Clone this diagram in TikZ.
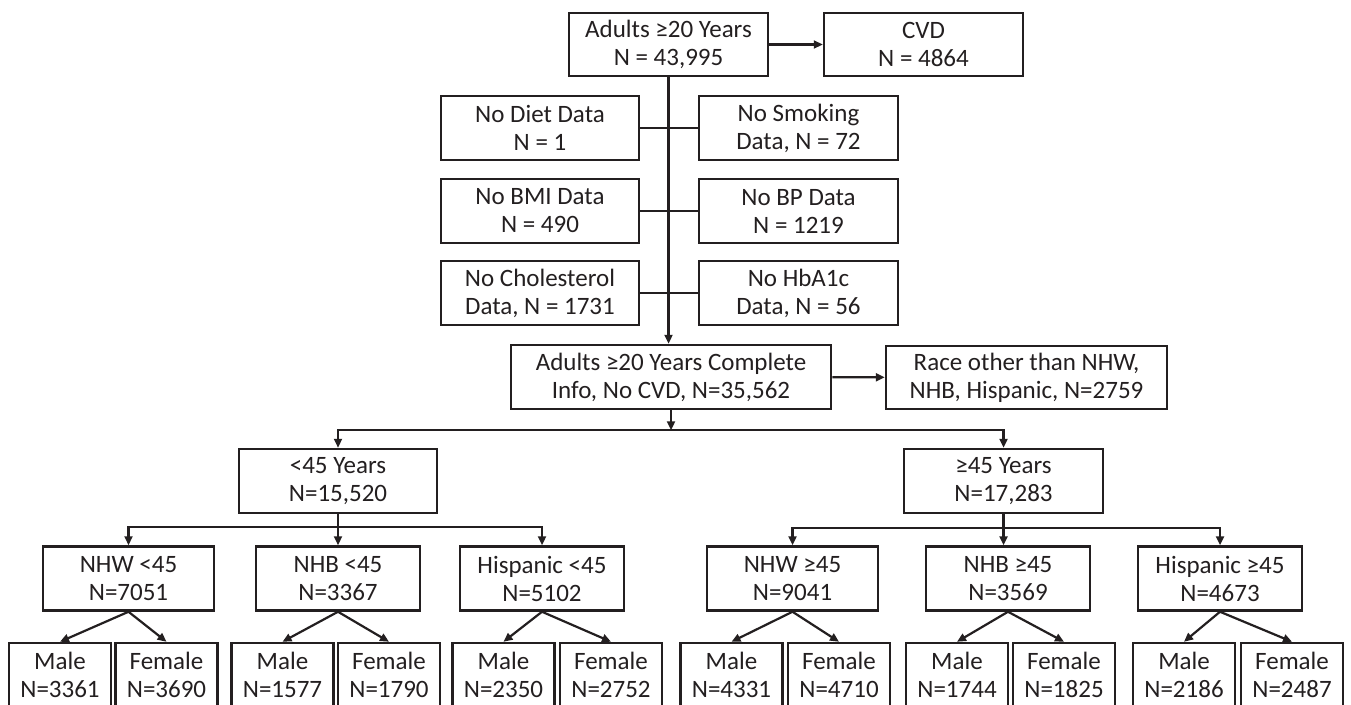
\documentclass[tikz,border=0pt]{standalone}
\usepackage{fontspec}
\setmainfont{Carlito}
\usetikzlibrary{arrows.meta}
\definecolor{inkgray}{HTML}{231F20}

\begin{document}
\begin{tikzpicture}[x=1pt, y=-1pt,
    box/.style={draw=inkgray, line width=2.5pt, align=center, inner sep=0pt,
      minimum height=64pt, text=inkgray, font=\fontsize{25}{28}\selectfont},
    link/.style={draw=inkgray, line width=2.2pt},
    flow/.style={link, -{Triangle[length=9pt, width=8pt]}}]
    \useasboundingbox (0,0) rectangle (1351,704);

    % Define the rows of the exclusion boxes
    \pgfmathsetmacro{\exl}{540};
    \pgfmathsetmacro{\exr}{798.5};
    \pgfmathsetmacro{\rowa}{128};
    \pgfmathsetmacro{\rowb}{211};
    \pgfmathsetmacro{\rowc}{293};

    % Draw the top of the chart
    \node[box, minimum width=199pt, minimum height=63pt] (adults) at (668.5,44.5) {Adults ≥20 Years\\N = 43,995};
    \node[box, minimum width=199pt, minimum height=63pt] (cvd) at (923.5,44.5) {CVD\\N = 4864};

    % Draw the missing data boxes
    \node[box, minimum width=198pt] (diet) at (\exl,\rowa) {No Diet Data\\N = 1};
    \node[box, minimum width=199pt] (smoke) at (\exr,\rowa) {No Smoking\\Data, N = 72};
    \node[box, minimum width=198pt] (bmi) at (\exl,\rowb) {No BMI Data\\N = 490};
    \node[box, minimum width=199pt] (bp) at (\exr,\rowb) {No BP Data\\N = 1219};
    \node[box, minimum width=198pt] (chol) at (\exl,\rowc) {No Cholesterol\\Data, N = 1731};
    \node[box, minimum width=199pt] (hba) at (\exr,\rowc) {No HbA1c\\Data, N = 56};

    % Draw the complete sample and the excluded races
    \node[box, minimum width=320pt] (complete) at (671,377) {Adults ≥20 Years Complete\\Info, No CVD, N=35,562};
    \node[box, minimum width=281pt, minimum height=63pt] (race) at (1026.5,377.5) {Race other than NHW,\\NHB, Hispanic, N=2759};

    % Draw the age groups
    \node[box, minimum width=198pt] (young) at (338,481) {<45 Years\\N=15,520};
    \node[box, minimum width=199pt] (old) at (1003.5,481) {≥45 Years\\N=17,283};

    % Draw the race groups
    \node[box, minimum width=171pt] (nhwy) at (128.5,578.5) {NHW <45\\N=7051};
    \node[box, minimum width=164pt] (nhby) at (338,578.5) {NHB <45\\N=3367};
    \node[box, minimum width=164pt] (hispy) at (542,578.5) {Hispanic <45\\N=5102};
    \node[box, minimum width=171pt] (nhwo) at (792.5,578.5) {NHW ≥45\\N=9041};
    \node[box, minimum width=164pt] (nhbo) at (1008,578.5) {NHB ≥45\\N=3569};
    \node[box, minimum width=164pt] (hispo) at (1220,578.5) {Hispanic ≥45\\N=4673};

    % Draw the sex groups
    \node[box, minimum width=102pt] (nhwym) at (60,675) {Male\\N=3361};
    \node[box, minimum width=102pt] (nhwyf) at (166.5,675) {Female\\N=3690};
    \node[box, minimum width=102pt] (nhbym) at (282.5,675) {Male\\N=1577};
    \node[box, minimum width=102pt] (nhbyf) at (389,675) {Female\\N=1790};
    \node[box, minimum width=102pt] (hispym) at (503.5,675) {Male\\N=2350};
    \node[box, minimum width=102pt] (hispyf) at (611,675) {Female\\N=2752};
    \node[box, minimum width=102pt] (nhwom) at (731.5,675) {Male\\N=4331};
    \node[box, minimum width=102pt] (nhwof) at (839,675) {Female\\N=4710};
    \node[box, minimum width=102pt] (nhbom) at (957,675) {Male\\N=1744};
    \node[box, minimum width=102pt] (nhbof) at (1064,675) {Female\\N=1825};
    \node[box, minimum width=102pt] (hispom) at (1184,675) {Male\\N=2186};
    \node[box, minimum width=102pt] (hispof) at (1292,675) {Female\\N=2487};

    % Draw the main trunk and the exclusions
    \draw[flow] (adults) -- (cvd);
    \draw[flow] (adults.south) -- (adults.south |- complete.north);
    \draw[link] (diet) -- (smoke);
    \draw[link] (bmi) -- (bp);
    \draw[link] (chol) -- (hba);
    \draw[flow] (complete) -- (race);

    % Split by age
    \coordinate (split) at ([yshift=-20pt]complete.south);
    \draw[flow] (complete.south) -- (split);
    \draw[flow] (split) -| (young.north);
    \draw[flow] (split) -| (old.north);

    % Split by race
    \draw[flow] (young.south) -- ++(0,13) -| (nhwy.north);
    \draw[flow] (young.south) -- (nhby.north);
    \draw[flow] (young.south) -- ++(0,13) -| (hispy.north);
    \draw[flow] (old.south) -- ++(0,14) -| (nhwo.north);
    \draw[flow] (old.south) -- (old.south |- nhbo.north);
    \draw[flow] (old.south) -- ++(0,14) -| (hispo.north);

    % Split by sex
    \draw[flow] (nhwy.south) -- (nhwym.north);
    \draw[flow] (nhwy.south) -- (nhwyf.north);
    \draw[flow] (nhby.south) -- (nhbym.north);
    \draw[flow] (nhby.south) -- (nhbyf.north);
    \draw[flow] (hispy.south) -- (hispym.north);
    \draw[flow] (hispy.south) -- (hispyf.north);
    \draw[flow] (nhwo.south) -- (nhwom.north);
    \draw[flow] (nhwo.south) -- (nhwof.north);
    \draw[flow] (nhbo.south) -- (nhbom.north);
    \draw[flow] (nhbo.south) -- (nhbof.north);
    \draw[flow] (hispo.south) -- (hispom.north);
    \draw[flow] (hispo.south) -- (hispof.north);
\end{tikzpicture}
\end{document}
